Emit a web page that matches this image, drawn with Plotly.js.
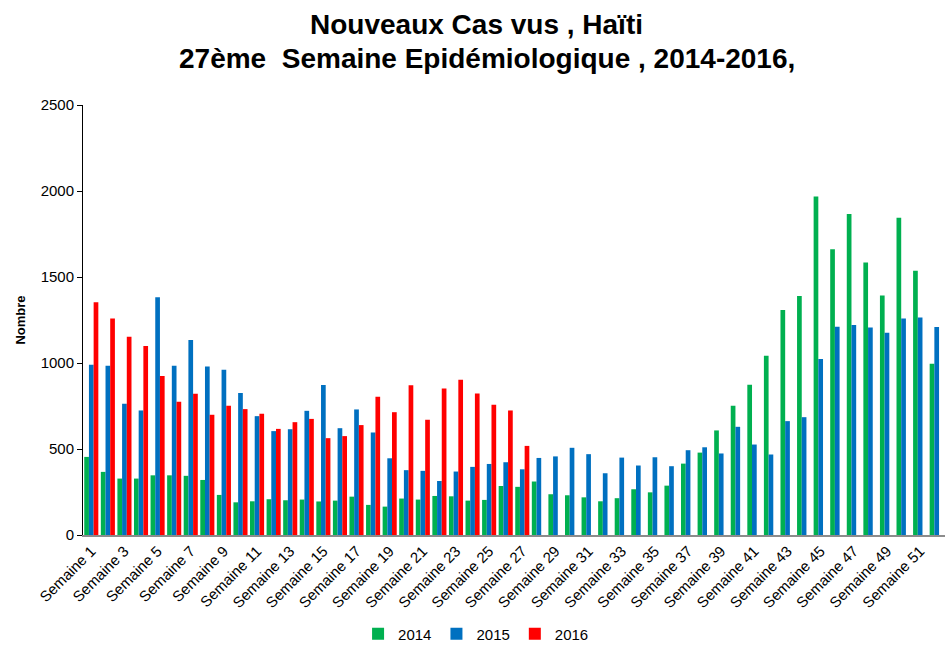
<!DOCTYPE html>
<html>
<head>
<meta charset="utf-8">
<script src="https://cdn.plot.ly/plotly-3.0.1.min.js"></script>
<style>
  html, body { margin: 0; padding: 0; background: #fff; }
  #chart { width: 952px; height: 663px; }
</style>
</head>
<body>
<div id="chart"></div>
<script>
const weeks = ["Semaine 1","Semaine 2","Semaine 3","Semaine 4","Semaine 5","Semaine 6","Semaine 7","Semaine 8","Semaine 9","Semaine 10",
  "Semaine 11","Semaine 12","Semaine 13","Semaine 14","Semaine 15","Semaine 16","Semaine 17","Semaine 18","Semaine 19","Semaine 20",
  "Semaine 21","Semaine 22","Semaine 23","Semaine 24","Semaine 25","Semaine 26","Semaine 27","Semaine 28","Semaine 29","Semaine 30",
  "Semaine 31","Semaine 32","Semaine 33","Semaine 34","Semaine 35","Semaine 36","Semaine 37","Semaine 38","Semaine 39","Semaine 40",
  "Semaine 41","Semaine 42","Semaine 43","Semaine 44","Semaine 45","Semaine 46","Semaine 47","Semaine 48","Semaine 49","Semaine 50",
  "Semaine 51","Semaine 52"];

const tickLabels = ["Semaine 1","Semaine 3","Semaine 5","Semaine 7","Semaine 9","Semaine 11","Semaine 13","Semaine 15","Semaine 17",
  "Semaine 19","Semaine 21","Semaine 23","Semaine 25","Semaine 27","Semaine 29","Semaine 31","Semaine 33","Semaine 35","Semaine 37",
  "Semaine 39","Semaine 41","Semaine 43","Semaine 45","Semaine 47","Semaine 49","Semaine 51"];

const titleLines = ["Nouveaux Cas vus , Haïti", "27ème  Semaine Epidémiologique , 2014-2016,"];

const cases2014 = [454,367,328,328,347,347,344,320,233,190,
  196,208,202,206,195,200,223,175,165,212,
  206,227,225,200,204,285,280,311,237,231,
  219,196,214,266,248,287,415,479,608,751,
  873,1042,1308,1390,1968,1662,1867,1584,1392,1844,
  1537,996];

const cases2015 = [990,984,763,724,1382,984,1134,980,961,825,
  691,604,615,722,872,621,730,596,446,377,
  373,314,369,396,413,423,382,448,457,507,
  470,359,450,404,452,400,493,510,474,629,
  526,468,662,685,1023,1211,1221,1207,1176,1258,
  1264,1209];

const cases2016 = [1353,1258,1153,1099,924,774,821,699,751,732,
  705,617,656,675,563,575,639,804,714,870,
  670,852,903,823,757,724,518];

const seriesNames = ["2014","2015","2016"];
const seriesColors = ["#00B050","#0070C0","#FF0000"];
const seriesData = [cases2014, cases2015, cases2016];

const traces = seriesData.map((vals, i) => ({
  type: "bar",
  name: seriesNames[i],
  x: weeks.slice(0, vals.length),
  y: vals,
  marker: { color: seriesColors[i] },
  hoverinfo: "x+y+name"
}));

const titleFont = { family: "Liberation Sans, Arial, sans-serif", size: 28, color: "#000000", weight: "bold" };

const layout = {
  width: 952,
  height: 663,
  paper_bgcolor: "#ffffff",
  plot_bgcolor: "#ffffff",
  margin: { l: 83, r: 7, t: 105, b: 128 },
  barmode: "group",
  bargap: 0.15,
  bargroupgap: 0,
  font: { family: "Liberation Sans, Arial, sans-serif", color: "#000000" },
  annotations: [
    { text: titleLines[0], xref: "paper", yref: "paper", x: 0.456, y: 1.188, xanchor: "center", yanchor: "middle",
      showarrow: false, font: titleFont },
    { text: titleLines[1], xref: "paper", yref: "paper", x: 0.469, y: 1.107, xanchor: "center", yanchor: "middle",
      showarrow: false, font: titleFont }
  ],
  xaxis: {
    type: "category",
    categoryorder: "array",
    categoryarray: weeks,
    range: [-0.5, weeks.length - 0.5],
    tickmode: "array",
    tickvals: tickLabels,
    ticktext: tickLabels,
    tickangle: -45,
    tickfont: { size: 15, color: "#000000" },
    showgrid: false,
    showline: true,
    linecolor: "#8c8c8c",
    linewidth: 1.5,
    ticks: "",
    zeroline: false
  },
  yaxis: {
    range: [0, 2500],
    dtick: 500,
    tick0: 0,
    tickfont: { size: 15, color: "#000000" },
    showgrid: false,
    showline: true,
    linecolor: "#000000",
    linewidth: 1,
    ticks: "outside",
    ticklen: 5,
    tickcolor: "#000000",
    zeroline: false,
    title: {
      text: "Nombre",
      font: { size: 13, color: "#000000", weight: "bold" },
      standoff: 12
    }
  },
  legend: {
    orientation: "h",
    x: 0.456,
    xanchor: "center",
    y: -0.23,
    yanchor: "middle",
    font: { size: 15, color: "#000000" },
    itemwidth: 30,
    traceorder: "normal"
  },
  showlegend: true
};

Plotly.newPlot("chart", traces, layout, { displayModeBar: false, staticPlot: true });
</script>
</body>
</html>
